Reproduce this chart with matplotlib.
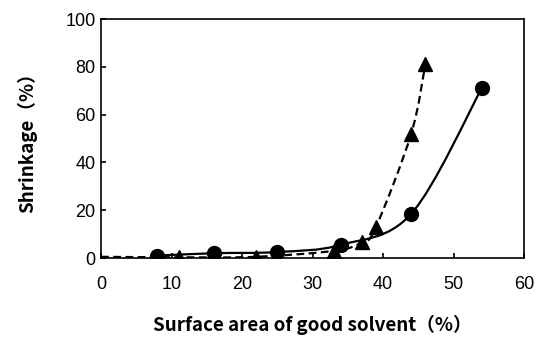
"""
Shrinkage vs surface area of good solvent
Two series drawn as smoothed scatter lines
"""
import numpy as np
import matplotlib
matplotlib.use('Agg')
from matplotlib import pyplot as plt
from matplotlib.path import Path
from matplotlib.patches import PathPatch

plt.rcParams['font.family'] = ['Liberation Sans', 'DejaVu Sans']

# data
circle_x = [8, 16, 25, 34, 44, 54]
circle_y = [1.0, 2.0, 2.5, 5.5, 18.5, 71]
tri_x = [11, 22, 33, 37, 39, 44, 46]
tri_y = [0.3, 0.5, 3.0, 6.5, 13, 52, 81]
# dashed curve starts at the origin (no marker there)
tri_start = (0, 0.5)

x_ticks = [0, 10, 20, 30, 40, 50, 60]
y_ticks = [0, 20, 40, 60, 80, 100]


def smooth_path(xs, ys):
    # Excel-like smoothed line: Catmull-Rom converted to cubic Bezier
    p = np.column_stack([xs, ys]).astype(float)
    n = len(p)
    verts = [p[0]]
    codes = [Path.MOVETO]
    for i in range(n - 1):
        p0 = p[i - 1] if i > 0 else p[i]
        p1 = p[i]
        p2 = p[i + 1]
        p3 = p[i + 2] if i + 2 < n else p[i + 1]
        c1 = p1 + (p2 - p0) / 6
        c2 = p2 - (p3 - p1) / 6
        verts += [c1, c2, p2]
        codes += [Path.CURVE4] * 3
    return Path(verts, codes)


fig = plt.figure(figsize=(5.39, 3.37), dpi=100)
ax = fig.add_axes([0.1874, 0.2344, 0.7848, 0.7092])

ax.add_patch(PathPatch(smooth_path(circle_x, circle_y), fill=False,
                       color='black', lw=1.6, zorder=2))
ax.add_patch(PathPatch(smooth_path([tri_start[0]] + tri_x,
                                   [tri_start[1]] + tri_y),
                       fill=False, color='black', lw=1.6, ls=(0, (3.5, 2)),
                       zorder=2))

ax.plot(circle_x, circle_y, 'o', color='black', ms=10, zorder=3)
ax.plot(tri_x, tri_y, '^', color='black', ms=10, zorder=3)

ax.set_xlim(0, 60)
ax.set_ylim(0, 100)
ax.set_xticks(x_ticks)
ax.set_yticks(y_ticks)

for s in ax.spines.values():
    s.set_linewidth(1.2)

ax.tick_params(direction='in', length=3.5, width=1.2, labelsize=13,
               colors='black')
ax.tick_params(axis='x', pad=13)
ax.tick_params(axis='y', pad=4)

lab_font = ['Noto Sans CJK JP', 'DejaVu Sans']
ax.set_xlabel('Surface area of good solvent（%）', family=lab_font,
              fontsize=13.5, fontweight='bold', va='center')
ax.set_ylabel('Shrinkage（%）', family=lab_font, fontsize=13.5,
              fontweight='bold', va='center', ha='center')
ax.xaxis.set_label_coords(0.5, -0.28)
ax.yaxis.set_label_coords(-0.175, 0.5)

plt.savefig('out.png', dpi=100)
